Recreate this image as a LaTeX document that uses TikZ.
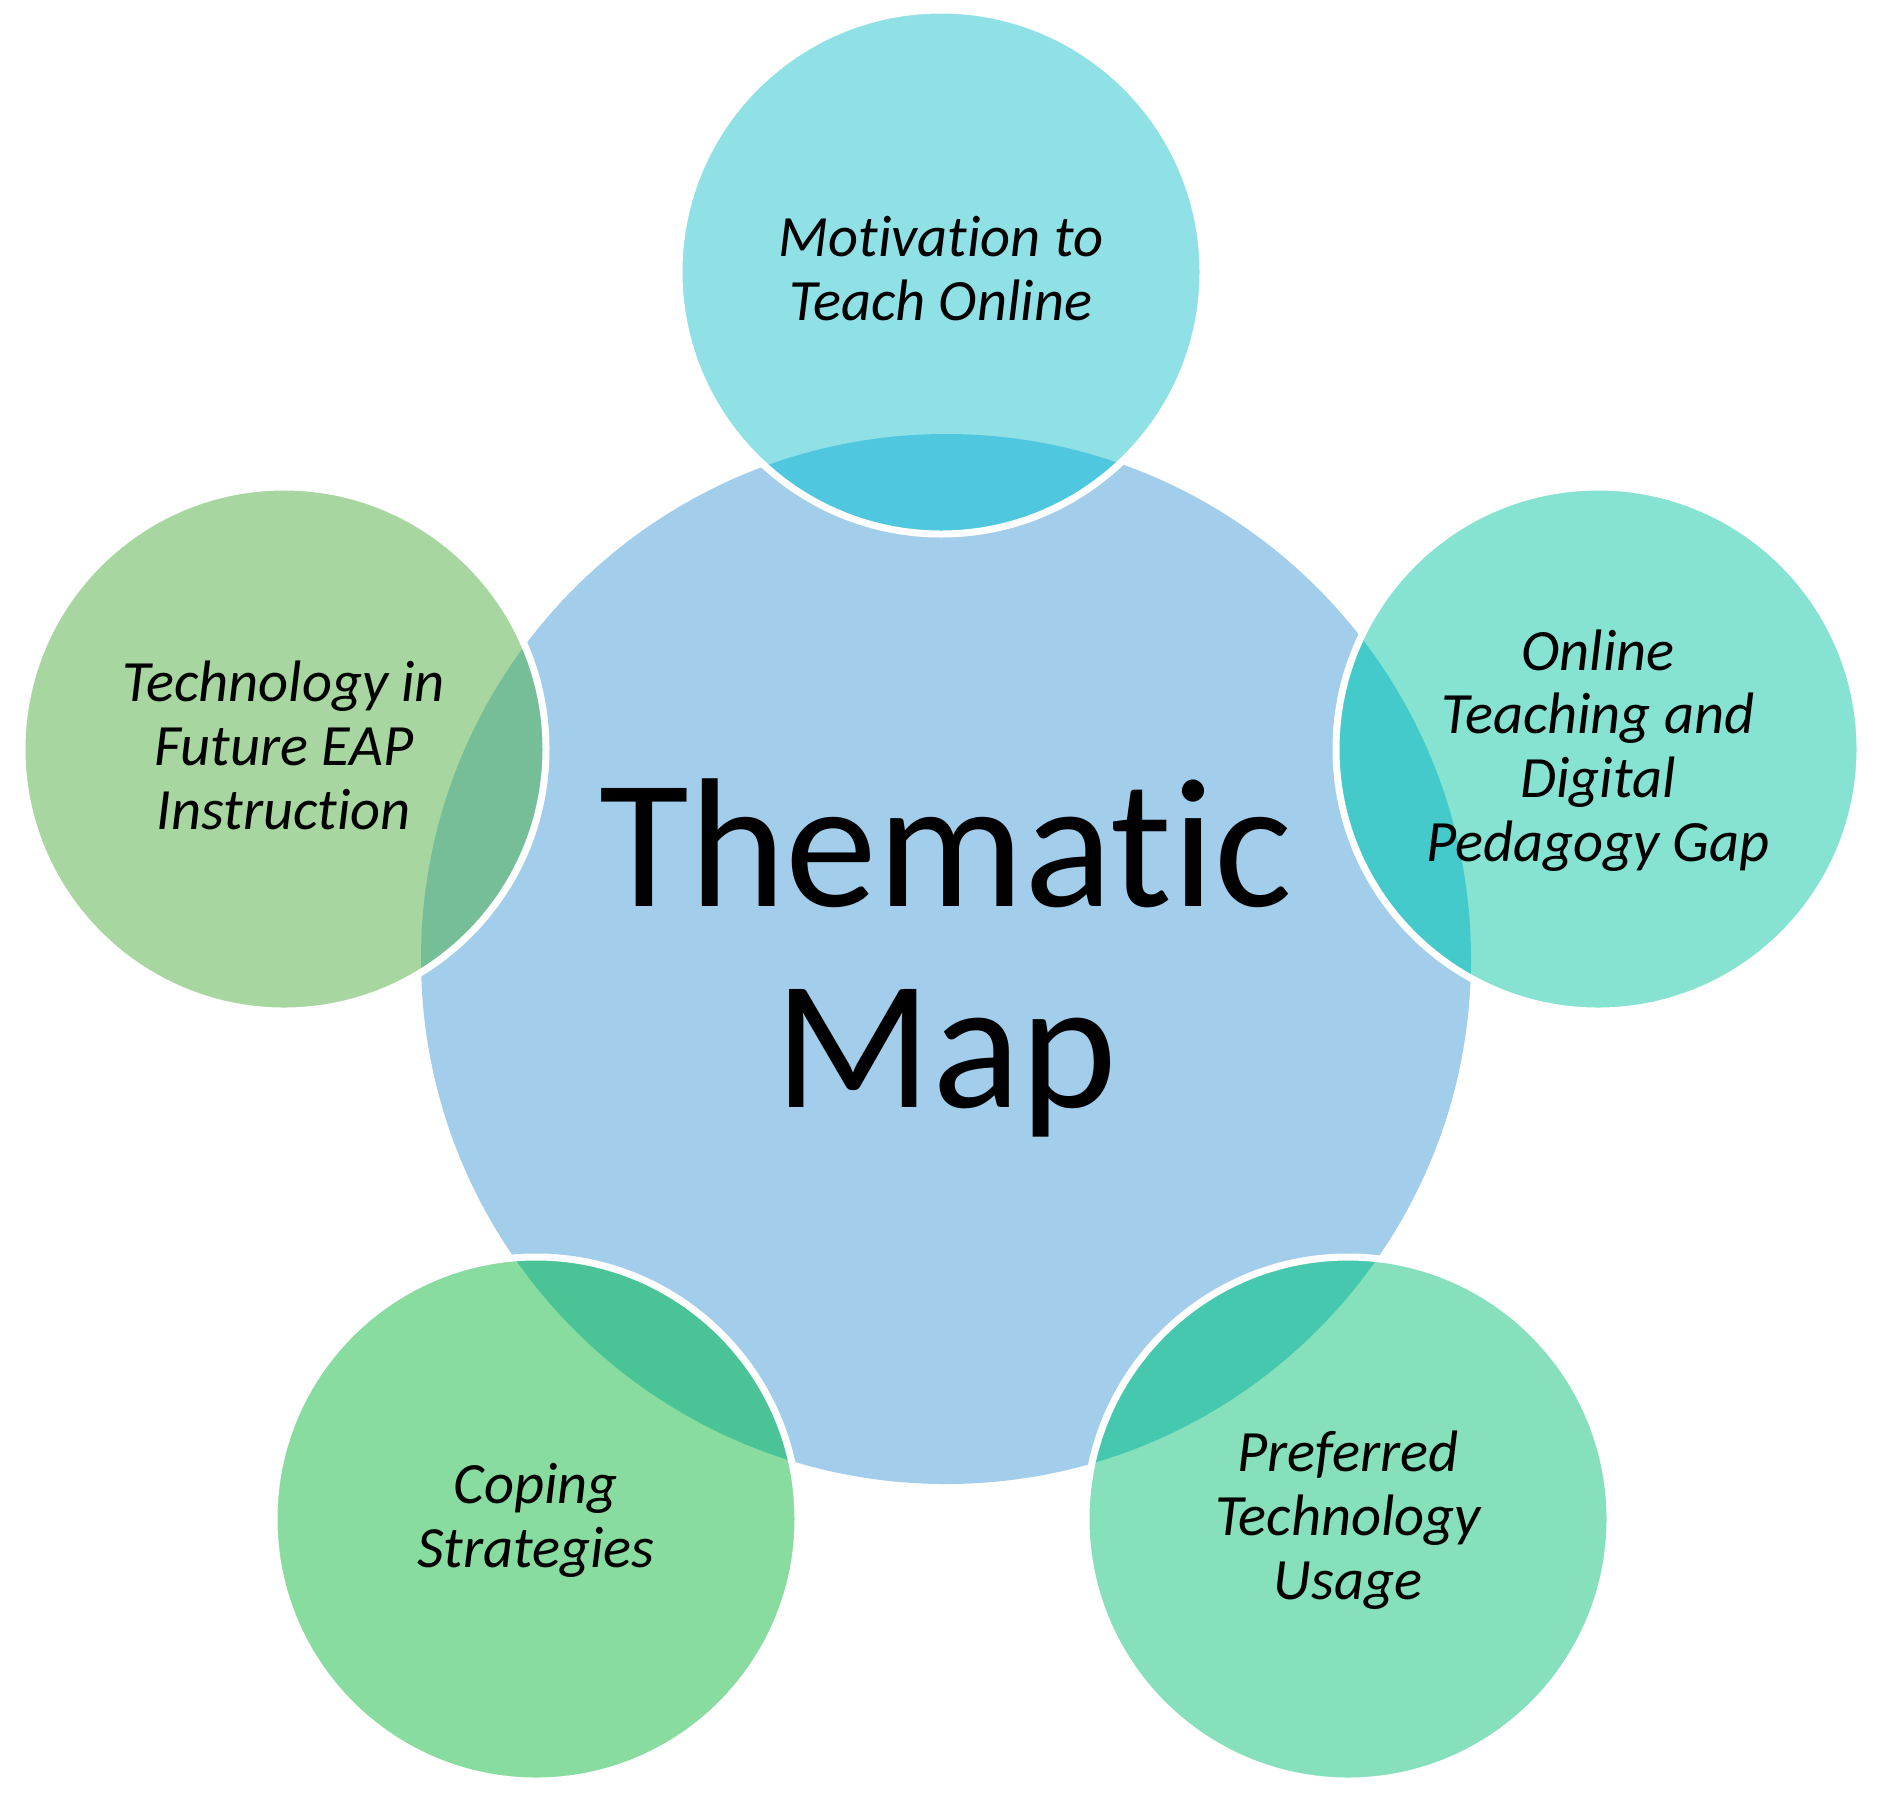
\documentclass[tikz,border=0pt]{standalone}
\usepackage{fontspec}
\usetikzlibrary{calc}
\setmainfont{Carlito}[Ligatures=NoCommon]
\definecolor{hubc}{HTML}{A2CDEB}
\definecolor{topc}{HTML}{8FE1E6}
\definecolor{topl}{HTML}{4FC7DE}
\definecolor{rightc}{HTML}{86E3D1}
\definecolor{rightl}{HTML}{45CACB}
\definecolor{leftc}{HTML}{A8D6A0}
\definecolor{leftl}{HTML}{75BE98}
\definecolor{blc}{HTML}{88DCA0}
\definecolor{bll}{HTML}{4AC497}
\definecolor{brc}{HTML}{86E0BB}
\definecolor{brl}{HTML}{45C8AE}
\begin{document}
\begin{tikzpicture}[x=1pt,y=-1pt,
  ring/.style={draw=white,line width=7pt},
  lbl/.style={align=center,inner sep=0pt,font=\fontsize{58.5}{63.8}\selectfont\itshape},
  hubtext/.style={align=center,inner sep=0pt,font=\fontsize{184}{201}\selectfont}]
\useasboundingbox (0,0) rectangle (1887,1808);
\coordinate (cH) at (946,959);
\coordinate (cT) at (941,272);
\coordinate (cR) at (1598,749);
\coordinate (cL) at (284,749);
\coordinate (cBL) at (536,1519);
\coordinate (cBR) at (1348,1519);
\def\rr{262}
\fill[hubc] (cH) circle (525);
% top
\fill[topc] (cT) circle (\rr);
\begin{scope}\clip (cT) circle (\rr); \fill[topl] (cH) circle (525);\end{scope}
\draw[ring] (cT) circle (\rr);
% right
\fill[rightc] (cR) circle (\rr);
\begin{scope}\clip (cR) circle (\rr); \fill[rightl] (cH) circle (525);\end{scope}
\draw[ring] (cR) circle (\rr);
% left
\fill[leftc] (cL) circle (\rr);
\begin{scope}\clip (cL) circle (\rr); \fill[leftl] (cH) circle (525);\end{scope}
\draw[ring] (cL) circle (\rr);
% bottom left
\fill[blc] (cBL) circle (\rr);
\begin{scope}\clip (cBL) circle (\rr); \fill[bll] (cH) circle (525);\end{scope}
\draw[ring] (cBL) circle (\rr);
% bottom right
\fill[brc] (cBR) circle (\rr);
\begin{scope}\clip (cBR) circle (\rr); \fill[brl] (cH) circle (525);\end{scope}
\draw[ring] (cBR) circle (\rr);
% texts
\node[hubtext] (hub) at (946,967) {\strut Thematic\\Map\strut};
\node[lbl] (mot) at ($(cT)+(0,4)$) {\strut Motivation to\\Teach Online\strut};
\node[lbl] (gap) at ($(cR)+(0,4)$) {\strut Online\\Teaching and\\Digital\\Pedagogy Gap\strut};
\node[lbl] (fut) at ($(cL)+(0,4)$) {\strut Technology in\\Future EAP\\Instruction\strut};
\node[lbl] (cop) at ($(cBL)+(0,4)$) {\strut Coping\\Strategies\strut};
\node[lbl] (pref) at ($(cBR)+(0,4)$) {\strut Preferred\\Technology\\Usage\strut};
\end{tikzpicture}
\end{document}
